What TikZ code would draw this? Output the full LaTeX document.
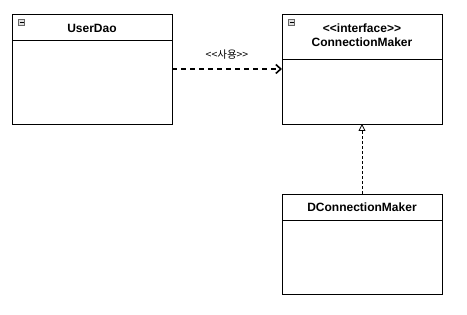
\documentclass[tikz,border=0pt]{standalone}
\usepackage{fontspec}
\setmainfont{Liberation Sans}
\newfontfamily\krfont{Noto Sans CJK KR}
\usetikzlibrary{arrows.meta}
\begin{document}
\begin{tikzpicture}[x=1pt,y=1pt,
  classbox/.style={draw=black, line width=0.9pt, fill=white},
  title/.style={font=\fontsize{12}{14}\selectfont\bfseries, align=center, inner sep=0pt},
  togglebox/.style={draw=black!60, fill=black!12, line width=0.6pt, minimum size=6.5pt, inner sep=0pt},
  uses/.style={line width=1.6pt, dash pattern=on 5pt off 4pt, -{Straight Barb[length=5pt,width=9pt,line width=1.6pt]}},
  realize/.style={line width=0.8pt, dash pattern=on 3pt off 2pt, -{Triangle[open, length=7pt, width=7pt, line width=0.8pt]}}
]
\useasboundingbox (0,0) rectangle (467,315);
% UserDao
\draw[classbox] (12,191) rectangle (172,301);
\draw[line width=0.9pt] (12,275) -- (172,275);
\node[title] (ud) at (92,287) {UserDao};
\node[togglebox] (udt) at (21.5,292.5) {};
\draw[line width=0.6pt] (19.5,292.5) -- (23.5,292.5);
% ConnectionMaker
\draw[classbox] (282,191) rectangle (442,301);
\draw[line width=0.9pt] (282,256) -- (442,256);
\node[title] (cm) at (362,280) {\fontsize{12}{14.5}\selectfont\bfseries <\kern0pt<interface>\kern0pt>\\ConnectionMaker};
\node[togglebox] (cmt) at (291.5,292.5) {};
\draw[line width=0.6pt] (289.5,292.5) -- (293.5,292.5);
% DConnectionMaker
\draw[classbox] (282,21) rectangle (442,121);
\draw[line width=0.9pt] (282,95) -- (442,95);
\node[title] (dcm) at (362,107.5) {DConnectionMaker};
% anchors
\coordinate (udE) at (172,246);
\coordinate (cmW) at (282,246);
\coordinate (cmS) at (362,191);
\coordinate (dcmN) at (362,121);
\draw[uses] (udE) -- (cmW);
\node[font=\krfont\fontsize{10.5}{12}\selectfont] (lbl) at (227,260) {<\kern0pt<사용>\kern0pt>};
\draw[realize] (dcmN) -- (cmS);
\end{tikzpicture}
\end{document}
